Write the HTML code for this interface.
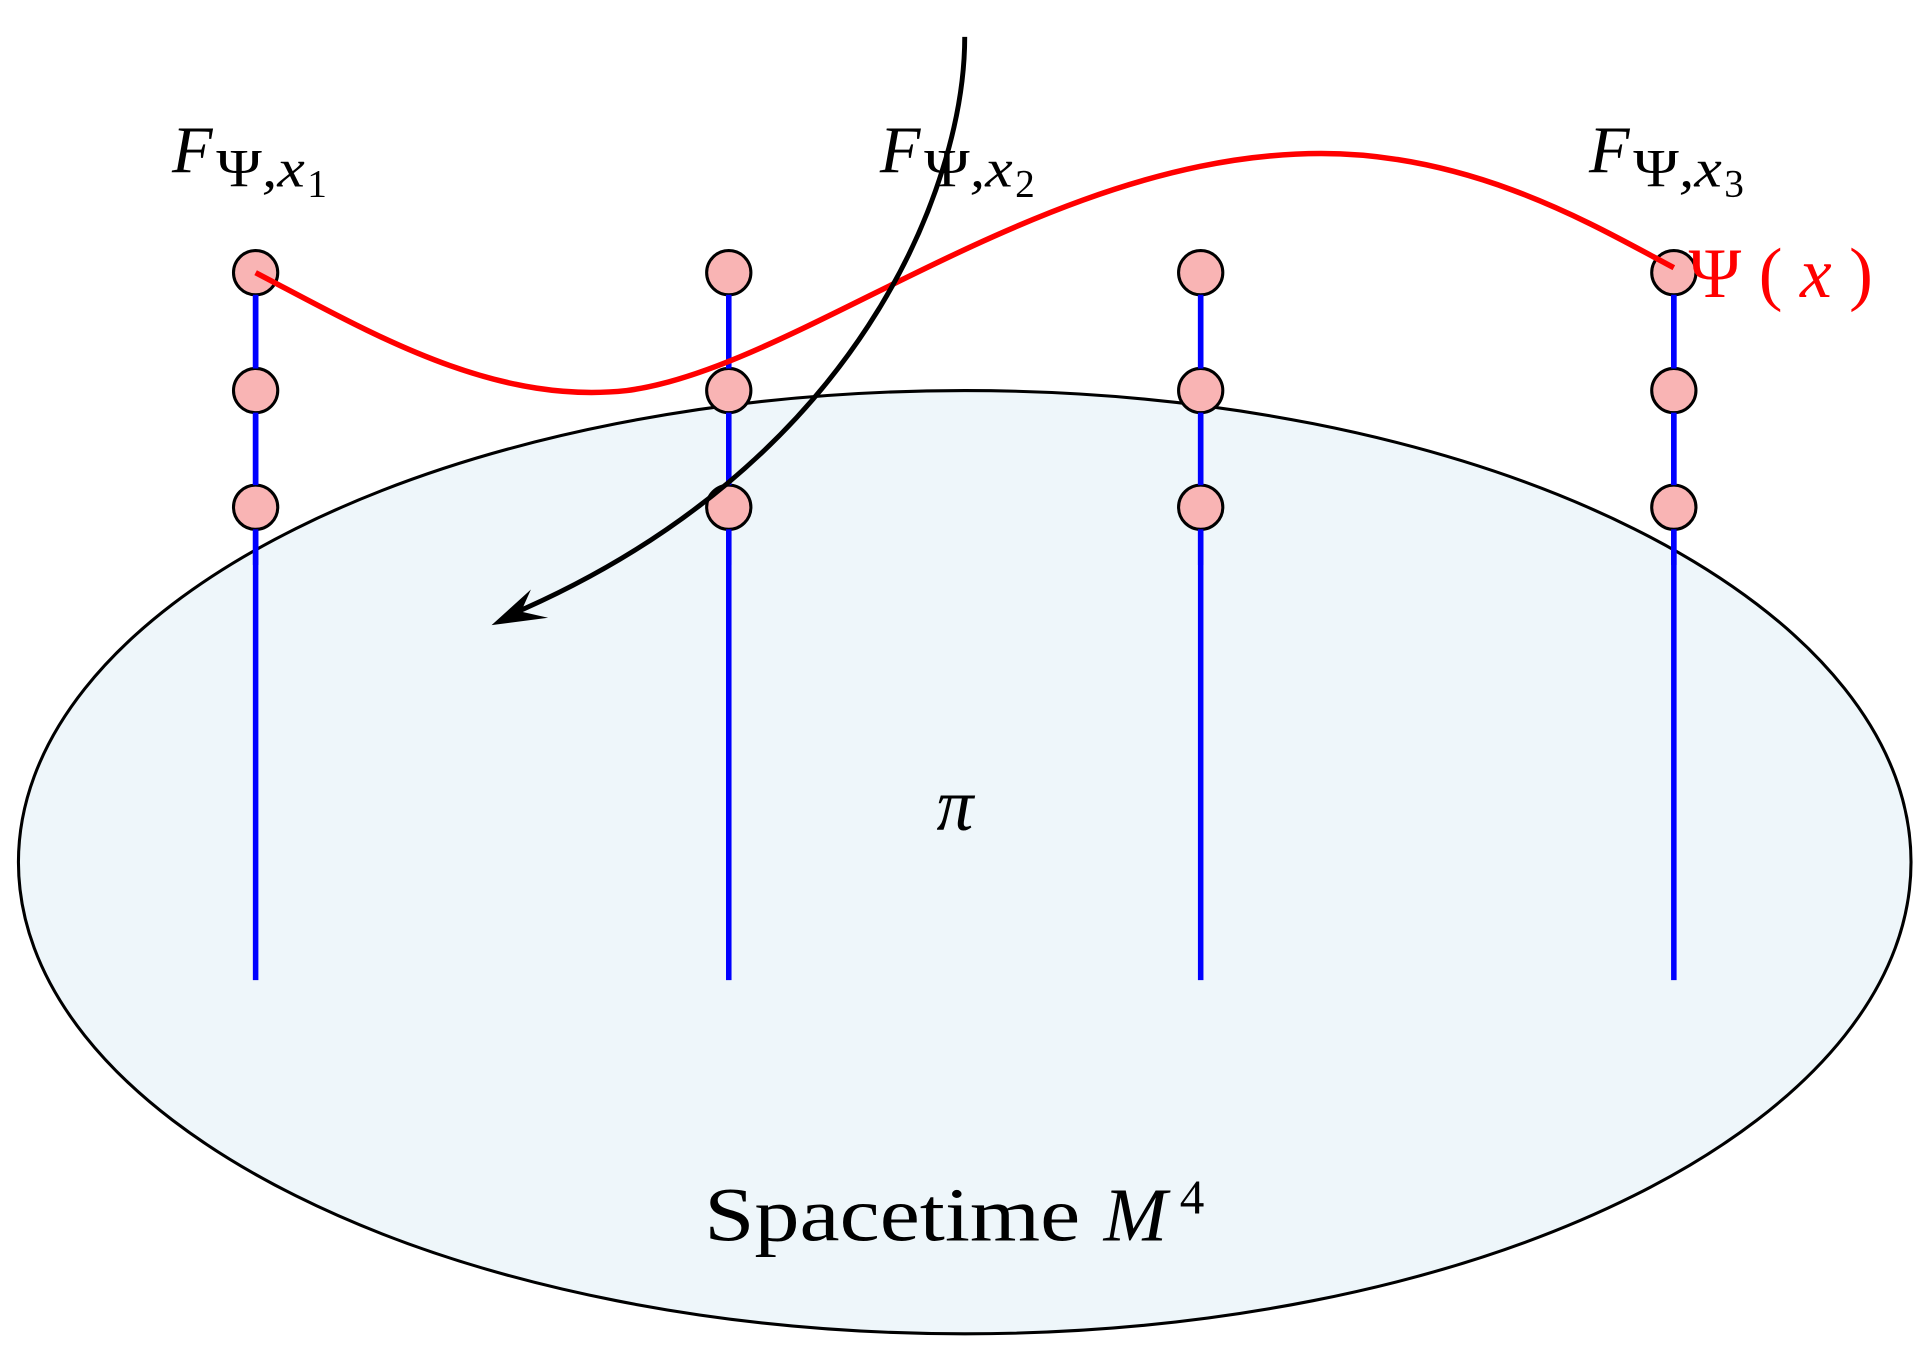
<!DOCTYPE html>
<html><head><meta charset="utf-8"><style>
html,body{margin:0;padding:0;background:#fff;}
svg{display:block;}
text{font-family:"Liberation Serif",serif;}
</style></head><body>
<svg width="1927" height="1351" viewBox="0 0 1568 1100" preserveAspectRatio="none" xmlns="http://www.w3.org/2000/svg">
<ellipse cx="785" cy="702" rx="770" ry="384" fill="#eef6fa" stroke="#000" stroke-width="2.5"/>
<g stroke="#0000ff" stroke-width="4.5">
<line x1="208" y1="222" x2="208" y2="798"/>
<line x1="593" y1="222" x2="593" y2="798"/>
<line x1="977" y1="222" x2="977" y2="798"/>
<line x1="1362" y1="222" x2="1362" y2="798"/>
</g>
<g fill="#f9b4b4" stroke="#000" stroke-width="2.5">
<circle cx="208" cy="222" r="18"/><circle cx="208" cy="318" r="18"/><circle cx="208" cy="413" r="18"/>
<circle cx="593" cy="222" r="18"/><circle cx="593" cy="318" r="18"/><circle cx="593" cy="413" r="18"/>
<circle cx="977" cy="222" r="18"/><circle cx="977" cy="318" r="18"/><circle cx="977" cy="413" r="18"/>
<circle cx="1362" cy="222" r="18"/><circle cx="1362" cy="318" r="18"/><circle cx="1362" cy="413" r="18"/>
</g>
<g stroke="#0000ff" stroke-width="4.5">
<line x1="208" y1="240" x2="208" y2="300"/><line x1="208" y1="336" x2="208" y2="395"/><line x1="208" y1="431" x2="208" y2="460"/>
<line x1="593" y1="240" x2="593" y2="300"/><line x1="593" y1="336" x2="593" y2="395"/><line x1="593" y1="431" x2="593" y2="460"/>
<line x1="977" y1="240" x2="977" y2="300"/><line x1="977" y1="336" x2="977" y2="395"/><line x1="977" y1="431" x2="977" y2="460"/>
<line x1="1362" y1="240" x2="1362" y2="300"/><line x1="1362" y1="336" x2="1362" y2="395"/><line x1="1362" y1="431" x2="1362" y2="460"/>
</g>
<path d="M208,222 C300,270 400,330 510,318 C650,300 850,125 1075,125 C1200,125 1300,185 1362,218" fill="none" stroke="#ff0000" stroke-width="4.5"/>
<path d="M785,30 C785,150 700,380 412,502" fill="none" stroke="#000" stroke-width="4"/>
<path d="M400,509 L432,480 L424,498 L446,503 Z" fill="#000"/>
<text x="140" y="140" font-size="54" font-style="italic">F</text>
<text x="176" y="152" font-size="44" textLength="72" lengthAdjust="spacingAndGlyphs">Ψ<tspan font-style="italic">,x</tspan></text>
<text x="250" y="160" font-size="32">1</text>
<text x="716" y="140" font-size="54" font-style="italic">F</text>
<text x="752" y="152" font-size="44" textLength="72" lengthAdjust="spacingAndGlyphs">Ψ<tspan font-style="italic">,x</tspan></text>
<text x="826" y="160" font-size="32">2</text>
<text x="1293" y="140" font-size="54" font-style="italic">F</text>
<text x="1329" y="152" font-size="44" textLength="72" lengthAdjust="spacingAndGlyphs">Ψ<tspan font-style="italic">,x</tspan></text>
<text x="1403" y="160" font-size="32">3</text>
<text x="1374" y="242" font-size="58" fill="#ff0000" textLength="150" lengthAdjust="spacing">Ψ(<tspan font-style="italic">x</tspan>)</text>
<text x="762" y="676" font-size="60" font-style="italic">π</text>
<text x="573" y="1010" font-size="62" textLength="306" lengthAdjust="spacingAndGlyphs">Spacetime</text>
<text x="898" y="1010" font-size="62" font-style="italic">M</text>
<text x="960" y="988" font-size="40">4</text>
</svg>
</body></html>
